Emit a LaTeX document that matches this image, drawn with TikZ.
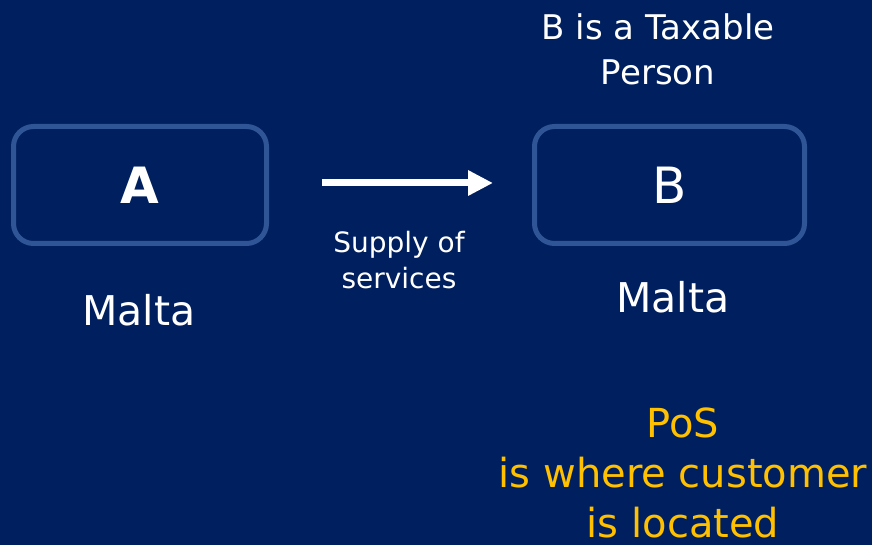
\documentclass[tikz,border=0pt]{standalone}
\usepackage{fontspec}
\setmainfont{DejaVu Sans}
\usetikzlibrary{arrows.meta}
\definecolor{navy}{RGB}{0,31,94}
\definecolor{boxline}{RGB}{47,85,151}
\definecolor{gold}{RGB}{255,192,0}
\begin{document}
\begin{tikzpicture}[x=1pt,y=-1pt,
  party/.style={draw=boxline,line width=5pt,rounded corners=20pt,minimum width=#1,minimum height=117pt,inner sep=0pt},
  label/.style={text=white,inner sep=0pt,align=center},
]
  % slide background
  \fill[navy] (0,0) rectangle (872,545);
  \useasboundingbox (0,0) rectangle (872,545);

  % the two parties
  \node[party=253pt] (boxA) at (140,185) {};
  \node[party=270pt] (boxB) at (669.5,185) {};
  \node[label,font=\bfseries\fontsize{50}{60}\selectfont] (nameA) at (boxA.center) {A};
  \node[label,font=\fontsize{50}{60}\selectfont] (nameB) at (boxB.center) {B};

  % locations
  \node[label,font=\fontsize{41}{50}\selectfont,anchor=base] (locA) at (139,325) {Malta};
  \node[label,font=\fontsize{41}{50}\selectfont,anchor=base] (locB) at (673,312) {Malta};

  % status of the customer (anchored on the last line's baseline)
  \node[label,font=\fontsize{34}{45}\selectfont,anchor=base] (status) at (658,85) {B is a Taxable\\Person};

  % the supply
  \coordinate (arrowS) at (322,183);
  \coordinate (arrowE) at (493,183);
  \draw[white,line width=7pt,-{Triangle[length=25pt,width=24pt]}] (arrowS) -- (arrowE);
  \node[label,font=\fontsize{28}{36}\selectfont,anchor=base] (supply) at (399,288) {Supply of\\services};

  % place-of-supply rule
  \node[label,text=gold,font=\fontsize{40}{50}\selectfont,anchor=base] (rule) at (683,537) {PoS\\is where customer\\is located};
\end{tikzpicture}
\end{document}
